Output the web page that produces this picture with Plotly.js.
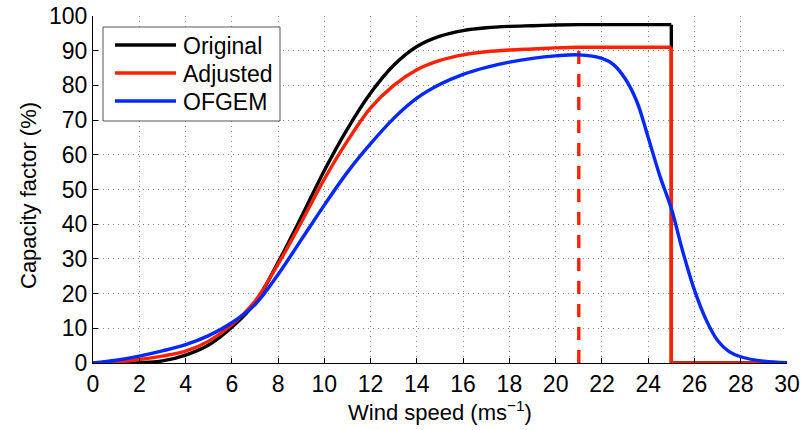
<!DOCTYPE html>
<html>
<head>
<meta charset="utf-8">
<script src="https://cdn.plot.ly/plotly-3.0.1.min.js"></script>
<style>html,body{margin:0;padding:0;background:#fff;}#chart{width:806px;height:430px;}</style>
</head>
<body>
<div id="chart"></div>
<script>
// Wind speed (m/s) and capacity factor (%)
const windSpeed = [0,1,2,3,4,5,6,7,8,9,10,11,12,13,14,15,16,17,18,19,20,21,22,23,24,25];
const original  = [0,0,0.1,0.6,2.3,5.2,10.3,17.3,29,42,55.5,67.5,77.8,85.8,91.2,94.2,95.8,96.6,97,97.2,97.4,97.5,97.5,97.5,97.5,97.5];
const adjusted  = [0,0.3,1,2,3.4,6.3,11,17.8,28.5,40.5,53,64,73.5,80,84.5,87.2,88.8,89.7,90.2,90.5,90.8,91,91,91,91,91];
const ofgemSpeed = [0,1,2,3,4,5,6,7,8,9,10,11,12,13,14,15,16,17,18,19,20,21,22,22.5,23,23.5,24,24.5,25,25.5,26,26.5,27,27.5,28,29,30];
const ofgem      = [0,0.8,2,3.5,5.3,7.9,11.6,16.8,25.5,35.5,45.5,55,63.2,70.5,76.3,80.3,83.2,85.2,86.7,87.8,88.5,88.8,87.8,86,82,75.5,65,54,44.5,32,21,12.5,6.5,3.3,1.8,0.5,0.1];
const cutOutSpeed = 25;
const maxSpeed = 30;
const adjustedMarkerSpeed = 21;
const seriesNames = ['Original', 'Adjusted', 'OFGEM'];
const xTicks = [0,2,4,6,8,10,12,14,16,18,20,22,24,26,28,30];
const yTicks = [0,10,20,30,40,50,60,70,80,90,100];
const xTitle = 'Wind speed (ms<sup>\u22121</sup>)';
const yTitle = 'Capacity factor (%)';

const BLACK = '#000000', RED = 'rgb(255,32,0)', BLUE = 'rgb(0,40,255)';
const COLORS = [BLACK, RED, BLUE];
const W = 3.4;
const lastOrig = original[original.length - 1];
const lastAdj = adjusted[adjusted.length - 1];
const adjAtMarker = adjusted[windSpeed.indexOf(adjustedMarkerSpeed)];

const traces = [
  {x: windSpeed, y: original, name: seriesNames[0], mode: 'lines', line: {color: BLACK, width: W, shape: 'spline', smoothing: 1}},
  {x: [cutOutSpeed, cutOutSpeed, maxSpeed], y: [lastOrig, 0, 0], mode: 'lines', line: {color: BLACK, width: W}},
  {x: windSpeed, y: adjusted, name: seriesNames[1], mode: 'lines', line: {color: RED, width: W, shape: 'spline', smoothing: 1}},
  {x: [cutOutSpeed, cutOutSpeed, maxSpeed], y: [lastAdj, 0, 0], mode: 'lines', line: {color: RED, width: W}},
  {x: [adjustedMarkerSpeed, adjustedMarkerSpeed], y: [0, adjAtMarker], mode: 'lines', line: {color: RED, width: W, dash: '13px,10px'}},
  {x: ofgemSpeed, y: ofgem, name: seriesNames[2], mode: 'lines', line: {color: BLUE, width: W, shape: 'spline', smoothing: 1}}
];

// plot area geometry (pixels)
const M = {l: 93, r: 19, t: 16, b: 67};
const PW = 806 - M.l - M.r, PH = 430 - M.t - M.b;
const px = v => (v - M.l) / PW;
const py = v => (430 - M.b - v) / PH;

const FONT = 'Liberation Sans, Arial, Helvetica, sans-serif';
const FS = 23;

// MATLAB-style legend box
const shapes = [{type: 'rect', xref: 'paper', yref: 'paper', layer: 'above',
  x0: px(103), x1: px(280), y0: py(121), y1: py(27),
  fillcolor: '#fff', line: {color: '#555', width: 1}}];
const annotations = [];
seriesNames.forEach((name, i) => {
  const yy = 45 + i * 28;
  shapes.push({type: 'line', xref: 'paper', yref: 'paper', layer: 'above',
    x0: px(115), x1: px(176), y0: py(yy), y1: py(yy), line: {color: COLORS[i], width: W}});
  annotations.push({xref: 'paper', yref: 'paper', x: px(181), y: py(yy + 1), xanchor: 'left', yanchor: 'middle',
    text: name, showarrow: false, font: {family: FONT, size: FS, color: '#000'}});
});
// y-axis title placed as in the reference
annotations.push({xref: 'paper', yref: 'paper', x: px(28), y: py(196), xanchor: 'center', yanchor: 'middle',
  text: yTitle, textangle: -90, showarrow: false, font: {family: FONT, size: 22, color: '#000'}});

const layout = {
  width: 806, height: 430,
  margin: M,
  paper_bgcolor: '#fff', plot_bgcolor: '#fff',
  font: {family: FONT, size: FS, color: '#000'},
  showlegend: false,
  shapes, annotations,
  xaxis: {
    range: [0, maxSpeed], tickvals: xTicks, ticktext: xTicks.map(String),
    ticks: 'inside', ticklen: 5, tickcolor: '#000', tickwidth: 1,
    showline: true, linecolor: '#000', linewidth: 1, mirror: false,
    showgrid: true, gridcolor: '#888', gridwidth: 1, griddash: '1px,4px',
    zeroline: false, tickfont: {size: FS},
    title: {text: xTitle, font: {size: 22}, standoff: 5}
  },
  yaxis: {
    range: [0, 100], tickvals: yTicks, ticktext: yTicks.map(String),
    ticks: 'inside', ticklen: 5, tickcolor: '#000', tickwidth: 1,
    showline: true, linecolor: '#000', linewidth: 1, mirror: false,
    showgrid: true, gridcolor: '#888', gridwidth: 1, griddash: '1px,4px',
    zeroline: false, tickfont: {size: FS}
  }
};

Plotly.newPlot('chart', traces, layout, {staticPlot: true, displayModeBar: false});
</script>
</body>
</html>
